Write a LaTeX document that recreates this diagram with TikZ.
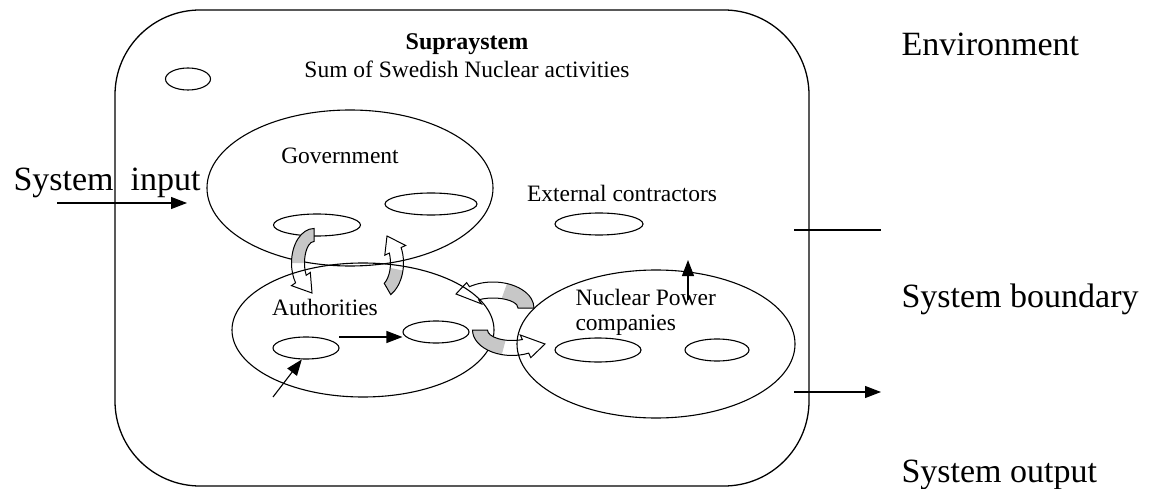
\documentclass[tikz,border=0pt]{standalone}
\usepackage{fontspec}
\setmainfont{Liberation Serif}
\usetikzlibrary{shapes.geometric,arrows.meta}
\newcommand\curvedarr[9]{%
 \begin{scope}[shift={#1}]
  \pgfmathsetmacro\rxo{#2+#4}\pgfmathsetmacro\ryo{#3+#4}%
  \pgfmathsetmacro\rxi{#2-#4}\pgfmathsetmacro\ryi{#3-#4}%
  \pgfmathsetmacro\rxf{#2+#4+#8}\pgfmathsetmacro\ryf{#3+#4+#8}%
  \pgfmathsetmacro\rxg{#2-#4-#8}\pgfmathsetmacro\ryg{#3-#4-#8}%
  \fill[backgray] (#5:\rxo\space and \ryo) arc[start angle=#5,end angle=#6,x radius=\rxo,y radius=\ryo]
     -- (#6:\rxi\space and \ryi) arc[start angle=#6,end angle=#5,x radius=\rxi,y radius=\ryi] -- cycle;
  \draw[cband] (#5:\rxo\space and \ryo) arc[start angle=#5,end angle=#7,x radius=\rxo,y radius=\ryo]
     -- (#7:\rxf\space and \ryf) -- #9 -- (#7:\rxg\space and \ryg) -- (#7:\rxi\space and \ryi)
     arc[start angle=#7,end angle=#5,x radius=\rxi,y radius=\ryi] -- cycle;
 \end{scope}}
\begin{document}
\begin{tikzpicture}[x=1pt,y=1pt,yscale=-1,
  ell/.style={draw,ellipse,line width=1.1pt,inner sep=0pt},
  cband/.style={draw,line width=1pt},
  backgray/.style={fill=black!22},
  arr/.style={line width=1.1pt,-{Triangle[length=16pt,width=12pt]}},
  big/.style={font=\fontsize{34}{40}\selectfont},
  mid/.style={font=\fontsize{23.5}{27}\selectfont}]
\useasboundingbox (0,0) rectangle (1151,489);
% outer supra-system box
\node[draw,line width=1.3pt,rounded corners=85pt,minimum width=694pt,minimum height=476pt,inner sep=0pt] (supra) at (462,248) {};
\node[ell,minimum width=45pt,minimum height=22pt] (small) at (188,79) {};
\node[anchor=base,font=\bfseries\fontsize{24}{28}\selectfont] (suptitle) at (467,50) {Supraystem};
\node[anchor=base,mid] (supsub) at (467,78) {Sum of Swedish Nuclear activities};
% big ellipses
\node[ell,minimum width=286pt,minimum height=156pt] (gov) at (350,188) {};
\node[ell,minimum width=262pt,minimum height=134pt] (auth) at (363,330) {};
\node[ell,minimum width=278pt,minimum height=148pt] (npc) at (656,344) {};
% labels
\node[anchor=base,mid] (govl) at (340,164) {Government};
\node[anchor=base,mid] (authl) at (325,315) {Authorities};
\node[anchor=base west,mid] (npcl1) at (572,305) {Nuclear Power};
\node[anchor=base west,mid] (npcl2) at (572,330) {companies};
\node[anchor=base,mid] (extl) at (622,202) {External contractors};
% inner ellipses
\node[ell,minimum width=87pt,minimum height=22pt] (g1) at (317,225) {};
\node[ell,minimum width=92pt,minimum height=22pt] (g2) at (431,204) {};
\node[ell,minimum width=66pt,minimum height=22pt] (a1) at (306,348) {};
\node[ell,minimum width=66pt,minimum height=22pt] (a2) at (436,332) {};
\node[ell,minimum width=88pt,minimum height=22pt] (ext) at (599,224) {};
\node[ell,minimum width=86pt,minimum height=24pt] (n1) at (598,350) {};
\node[ell,minimum width=64pt,minimum height=22pt] (n2) at (717,350) {};
% arrows inside
\coordinate (s1) at (339,337);
\draw[arr] (s1) -- (s1 -| a2.west);
\coordinate (d0) at (273,397);
\draw[arr] (d0) -- (a1.250);
\coordinate (e0) at (688,300);
\coordinate (e1) at (688,260);
\draw[arr] (e0) -- (e1);
% curved arrows
\curvedarr{(314,263)}{16}{28}{6.5}{-90}{-180}{-215}{5}{(-2,30)}
\curvedarr{(378,263)}{19}{30}{6.5}{60}{12}{-25}{5}{(9,-27)}
\curvedarr{(493,308)}{33}{18}{8}{0}{-70}{-125}{5}{(-37,-14)}
\curvedarr{(512,330)}{32}{18}{7.5}{180}{105}{65}{5}{(33,14)}
% environment side
\node[anchor=base west,big] (env) at (898,56) {Environment};
\node[anchor=base west,big] (bnd) at (898,307) {System boundary};
\node[anchor=base west,big] (out) at (898,482) {System output};
\node[anchor=base west,big] (inl) at (10,191) {System\ \ input};
\coordinate (b0) at (794,230); \coordinate (b1) at (881,230);
\draw[line width=1.1pt] (b0) -- (b1);
\coordinate (o0) at (794,392); \coordinate (o1) at (881,392);
\draw[arr] (o0) -- (o1);
\coordinate (i0) at (57,203); \coordinate (i1) at (187,203);
\draw[arr] (i0) -- (i1);
\end{tikzpicture}
\end{document}
